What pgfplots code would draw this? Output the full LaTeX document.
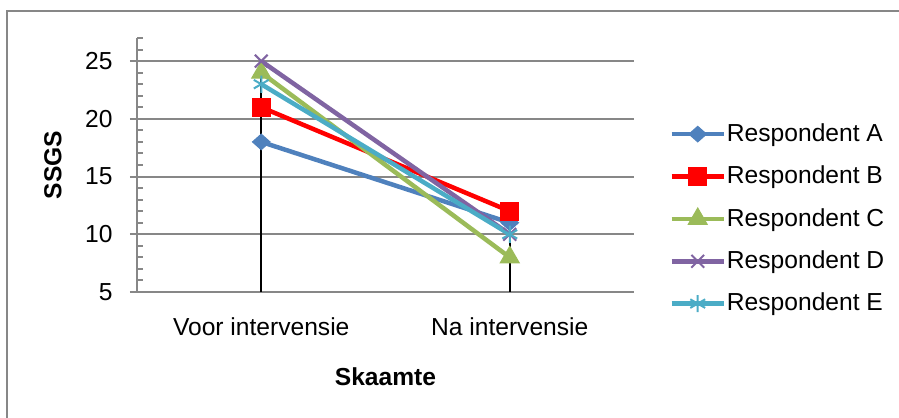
\documentclass[border=0pt]{standalone}
\usepackage{pgfplots}
\pgfplotsset{compat=1.18}
\usepackage{fontspec}
\setmainfont{Liberation Sans}
\definecolor{cA}{HTML}{4F81BD}
\definecolor{cB}{HTML}{FF0000}
\definecolor{cC}{HTML}{9BBB59}
\definecolor{cD}{HTML}{8064A2}
\definecolor{cE}{HTML}{4BACC6}
\definecolor{gridgray}{HTML}{878787}
\begin{document}
\fontsize{12.3bp}{14bp}\selectfont
\begin{tikzpicture}
\useasboundingbox (0,0) rectangle (449.5bp,-209bp);
\draw[gridgray, line width=1bp] (3.5bp,-215bp) -- (3.5bp,-5.5bp) -- (455bp,-5.5bp);
\begin{axis}[
 at={(68.5bp,-146bp)}, anchor=south west,
 width=248.5bp, height=127bp, scale only axis,
 xmin=-0.5, xmax=1.5, ymin=5, ymax=27,
 axis x line*=bottom, axis y line*=left,
 axis line style={gridgray, line width=1bp, -},
 xtick={0,1}, xticklabels={Voor intervensie, Na intervensie},
 x tick style={draw=none},
 ytick={5,10,...,25},
 extra y ticks={6,7,8,9,11,12,13,14,16,17,18,19,21,22,23,24,26,27},
 extra y tick labels={},
 extra y tick style={tick align=inside, major tick length=3bp, grid=none},
 tick align=outside, major tick length=3.5bp,
 y tick style={gridgray, line width=1bp},
 ymajorgrids, grid style={gridgray, line width=1bp},
 /pgf/number format/assume math mode=true,
 yticklabel style={inner sep=0pt, anchor=east, xshift=-8.5bp},
 xticklabel style={inner sep=0pt, anchor=north, yshift=-9bp},
 xlabel={\bfseries Skaamte}, ylabel={\bfseries SSGS},
 xlabel style={at={(axis description cs:0.5,-0.335)}, anchor=center, inner sep=0pt},
 ylabel style={at={(axis description cs:-0.169,0.5)}, anchor=center, inner sep=0pt},
 legend style={at={(1.0714,0.288)}, anchor=west, draw=none, fill=none,
   inner sep=0pt, outer sep=0pt,
   row sep=10.4bp, nodes={inner sep=0pt, outer sep=0pt},
   /tikz/every odd column/.append style={column sep=0.5bp}},
 legend cell align=left,
 legend image code/.code={\draw[mark repeat=2,mark phase=2] plot coordinates {(0bp,0bp)(13bp,0bp)(26bp,0bp)};},
 every axis plot/.append style={line width=2.25bp},
 clip=false,
]
\addplot[cA, mark=diamond*, mark size=3.9bp, mark options={xscale=1.5, line width=0.5bp}] coordinates {(0,18) (1,11)};
\addlegendentry{Respondent A}
\addplot[cB, mark=square*, mark size=4.5bp, mark options={line width=0.5bp}] coordinates {(0,21) (1,12)};
\addlegendentry{Respondent B}
\addplot[cC, mark=triangle*, mark size=5.5bp, mark options={line width=0.5bp}] coordinates {(0,24) (1,8)};
\addlegendentry{Respondent C}
\addplot[cD, mark=x, mark size=4.5bp, mark options={line width=1bp}] coordinates {(0,25) (1,10)};
\addlegendentry{Respondent D}
\addplot[cE, mark=asterisk, mark size=4.3bp, mark options={line width=1bp}] coordinates {(0,23) (1,10)};
\addlegendentry{Respondent E}
\addplot[black, line width=1bp, forget plot] coordinates {(0,25) (0,5)};
\addplot[black, line width=1bp, forget plot] coordinates {(1,12) (1,5)};
\end{axis}
\end{tikzpicture}
\end{document}
